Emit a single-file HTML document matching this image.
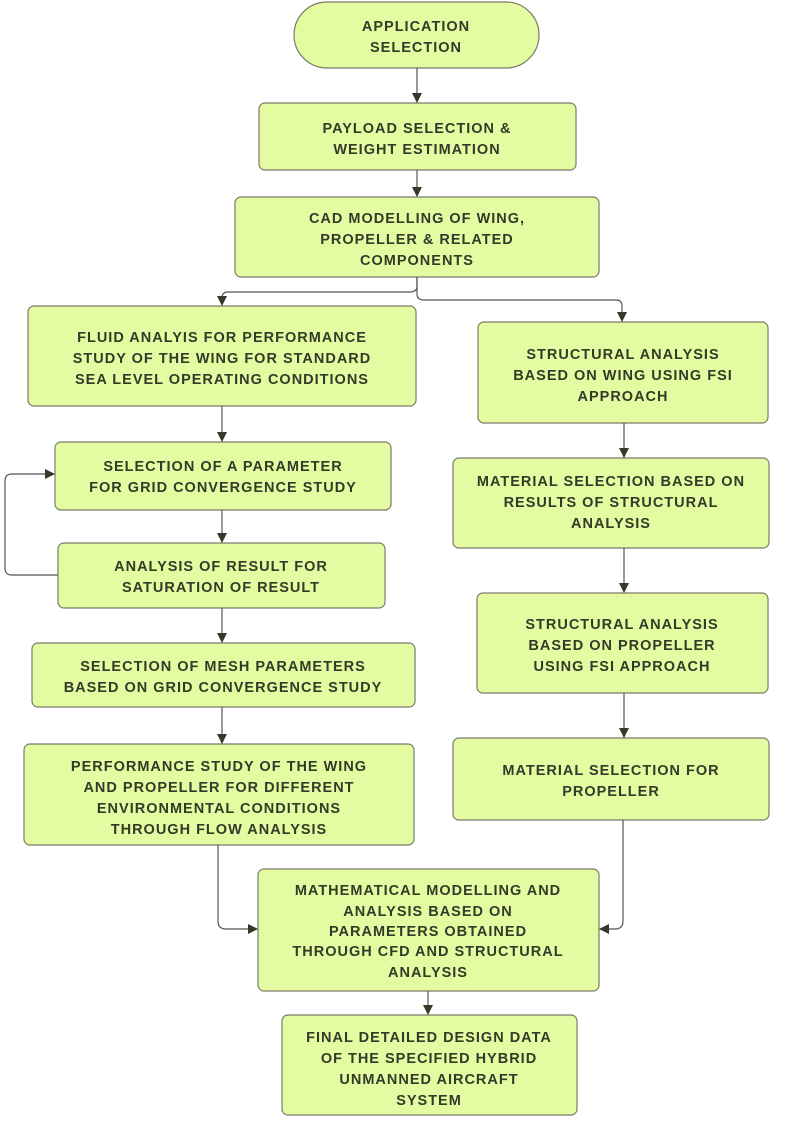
<!DOCTYPE html>
<html><head><meta charset="utf-8"><style>
html,body{margin:0;padding:0;background:#fff;}
svg text{font-family:"Liberation Sans",sans-serif;font-weight:bold;text-transform:uppercase;fill:#333a28;font-size:14.5px;text-anchor:middle;letter-spacing:1px;}
</style></head><body>
<svg width="796" height="1120" viewBox="0 0 796 1120" xmlns="http://www.w3.org/2000/svg">
<defs><marker id="a" markerWidth="10" markerHeight="10" refX="9" refY="5" orient="auto" markerUnits="userSpaceOnUse"><path d="M0,0 L10,5 L0,10 z" fill="#333a28"/></marker></defs>
<g fill="#e3fca2" stroke="#7a7a6a" stroke-width="1.2">
<rect x="294" y="2" width="245" height="66" rx="33"/>
<rect x="259" y="103" width="317" height="67" rx="6"/>
<rect x="235" y="197" width="364" height="80" rx="6"/>
<rect x="28" y="306" width="388" height="100" rx="6"/>
<rect x="478" y="322" width="290" height="101" rx="6"/>
<rect x="55" y="442" width="336" height="68" rx="6"/>
<rect x="58" y="543" width="327" height="65" rx="6"/>
<rect x="32" y="643" width="383" height="64" rx="6"/>
<rect x="24" y="744" width="390" height="101" rx="6"/>
<rect x="453" y="458" width="316" height="90" rx="6"/>
<rect x="477" y="593" width="291" height="100" rx="6"/>
<rect x="453" y="738" width="316" height="82" rx="6"/>
<rect x="258" y="869" width="341" height="122" rx="6"/>
<rect x="282" y="1015" width="295" height="100" rx="6"/>
</g>
<g fill="none" stroke="#555" stroke-width="1.2" marker-end="url(#a)">
<path d="M417,68 V102"/>
<path d="M417,170 V196"/>
<path d="M417,277 V286 Q417,292 410,292 H228 Q222,292 222,298 V305"/>
<path d="M417,277 V294 Q417,300 424,300 H616 Q622,300 622,306 V321"/>
<path d="M222,406 V441"/>
<path d="M222,510 V542"/>
<path d="M58,575 H12 Q5,575 5,568 V481 Q5,474 12,474 H54"/>
<path d="M222,608 V642"/>
<path d="M222,707 V743"/>
<path d="M218,845 V921 Q218,929 226,929 H257"/>
<path d="M623,820 V921 Q623,929 615,929 H600"/>
<path d="M624,423 V457"/>
<path d="M624,548 V592"/>
<path d="M624,693 V737"/>
<path d="M428,991 V1014"/>
</g>
<text x="416" y="31">Application</text><text x="416" y="52">selection</text>
<text x="417" y="133">Payload selection &amp;</text><text x="417" y="154">Weight estimation</text>
<text x="417" y="223">CAD modelling of wing,</text><text x="417" y="244">propeller &amp; related</text><text x="417" y="265">components</text>
<text x="222" y="342">Fluid analyis for performance</text><text x="222" y="363">study of the wing for standard</text><text x="222" y="384">sea level operating conditions</text>
<text x="623" y="359">Structural analysis</text><text x="623" y="380">based on wing using FSI</text><text x="623" y="401">approach</text>
<text x="223" y="471">Selection of a parameter</text><text x="223" y="492">for grid convergence study</text>
<text x="221" y="571">Analysis of result for</text><text x="221" y="592">saturation of result</text>
<text x="223" y="671">Selection of mesh parameters</text><text x="223" y="692">based on grid convergence study</text>
<text x="219" y="771">performance study of the wing</text><text x="219" y="792">and propeller for different</text><text x="219" y="813">environmental conditions</text><text x="219" y="834">through flow analysis</text>
<text x="611" y="486">material selection based on</text><text x="611" y="507">results of structural</text><text x="611" y="528">analysis</text>
<text x="622" y="629">Structural analysis</text><text x="622" y="650">based on propeller</text><text x="622" y="671">using FSI approach</text>
<text x="611" y="775">material selection for</text><text x="611" y="796">propeller</text>
<text x="428" y="895">mathematical modelling and</text><text x="428" y="916">analysis based on</text><text x="428" y="936">parameters obtained</text><text x="428" y="956">through CFD and structural</text><text x="428" y="977">analysis</text>
<text x="429" y="1042">Final detailed design data</text><text x="429" y="1063">of the specified hybrid</text><text x="429" y="1084">Unmanned Aircraft</text><text x="429" y="1105">system</text>
</svg>
</body></html>
